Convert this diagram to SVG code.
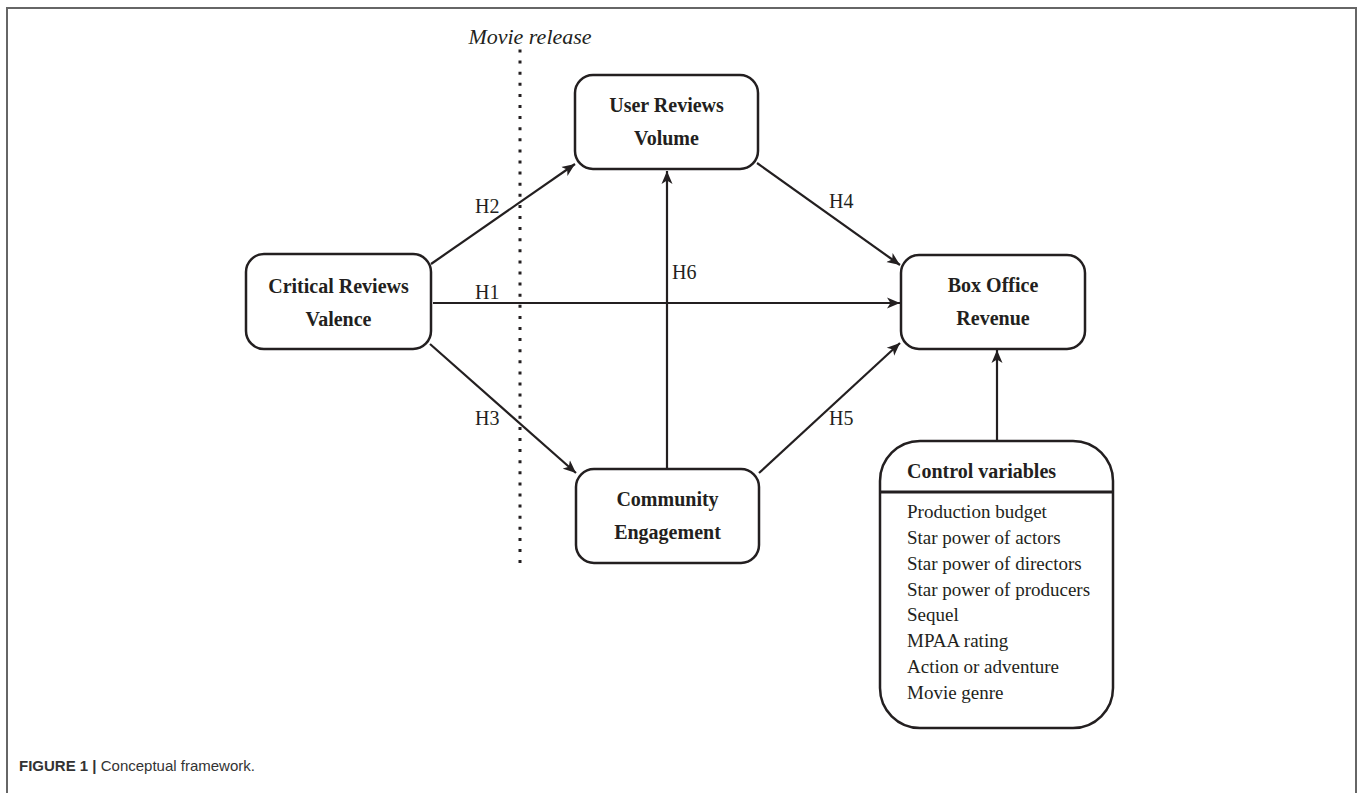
<svg xmlns="http://www.w3.org/2000/svg" width="1358" height="793" viewBox="0 0 1358 793">
<style>
.box{fill:#fff;stroke:#231f20;stroke-width:2.5}
.nt{font-family:"Liberation Serif",serif;font-weight:bold;font-size:20px;fill:#231f20;text-anchor:middle}
.it{font-family:"Liberation Serif",serif;font-size:19px;fill:#231f20}
.hl{font-family:"Liberation Serif",serif;font-size:20px;fill:#231f20}
.cn{fill:none;stroke:#231f20;stroke-width:2.2}
</style>
<defs>
<marker id="ah" markerWidth="14" markerHeight="12" refX="13" refY="6" orient="auto" markerUnits="userSpaceOnUse">
<path d="M0,0.5 L13,6 L0,11.5 L3.5,6 Z" fill="#231f20"/>
</marker>
</defs>
<rect width="1358" height="793" fill="#fff"/>
<path d="M7,793 V8 H1356 V793" fill="none" stroke="#666" stroke-width="2"/>
<g id="release">
<text x="530" y="44" font-family="Liberation Serif,serif" font-style="italic" font-size="22" fill="#231f20" text-anchor="middle">Movie release</text>
<line x1="520" y1="49.5" x2="520" y2="564" stroke="#231f20" stroke-width="3" stroke-dasharray="3 8.1"/>
</g>
<g id="connectors">
<line class="cn" x1="431" y1="264" x2="575" y2="164" marker-end="url(#ah)"/>
<line class="cn" x1="433" y1="303" x2="900" y2="303" marker-end="url(#ah)"/>
<line class="cn" x1="430" y1="344" x2="576" y2="473" marker-end="url(#ah)"/>
<line class="cn" x1="757" y1="163" x2="900" y2="265" marker-end="url(#ah)"/>
<line class="cn" x1="759" y1="473" x2="900" y2="343" marker-end="url(#ah)"/>
<line class="cn" x1="667" y1="469" x2="667" y2="171" marker-end="url(#ah)"/>
<line class="cn" x1="997" y1="441" x2="997" y2="350" marker-end="url(#ah)"/>
<text class="hl" x="475" y="213">H2</text>
<text class="hl" x="475" y="299">H1</text>
<text class="hl" x="475" y="425">H3</text>
<text class="hl" x="829" y="208">H4</text>
<text class="hl" x="829" y="425">H5</text>
<text class="hl" x="672" y="279">H6</text>
</g>
<g id="critical">
<rect class="box" x="246" y="254" width="185" height="95" rx="18"/>
<text class="nt" x="338.5" y="293">Critical Reviews</text>
<text class="nt" x="338.5" y="326">Valence</text>
</g>
<g id="user">
<rect class="box" x="575" y="75" width="183" height="94" rx="18"/>
<text class="nt" x="666.5" y="112">User Reviews</text>
<text class="nt" x="666.5" y="145">Volume</text>
</g>
<g id="community">
<rect class="box" x="576" y="469" width="183" height="94" rx="18"/>
<text class="nt" x="667.5" y="506">Community</text>
<text class="nt" x="667.5" y="539">Engagement</text>
</g>
<g id="boxoffice">
<rect class="box" x="901" y="255" width="184" height="94" rx="18"/>
<text class="nt" x="993" y="292">Box Office</text>
<text class="nt" x="993" y="325">Revenue</text>
</g>
<g id="control">
<rect class="box" x="880" y="441" width="233" height="287" rx="40"/>
<line x1="880" y1="492" x2="1113" y2="492" stroke="#231f20" stroke-width="3"/>
<text class="nt" x="907" y="478" text-anchor="start" style="text-anchor:start">Control variables</text>
<text class="it" x="907" y="518">Production budget</text>
<text class="it" x="907" y="544">Star power of actors</text>
<text class="it" x="907" y="570">Star power of directors</text>
<text class="it" x="907" y="596">Star power of producers</text>
<text class="it" x="907" y="621">Sequel</text>
<text class="it" x="907" y="647">MPAA rating</text>
<text class="it" x="907" y="673">Action or adventure</text>
<text class="it" x="907" y="699">Movie genre</text>
</g>
<text x="19" y="771" font-family="Liberation Sans,Arial,sans-serif" font-size="15" fill="#333"><tspan font-weight="bold">FIGURE 1 |</tspan> Conceptual framework.</text>
</svg>
